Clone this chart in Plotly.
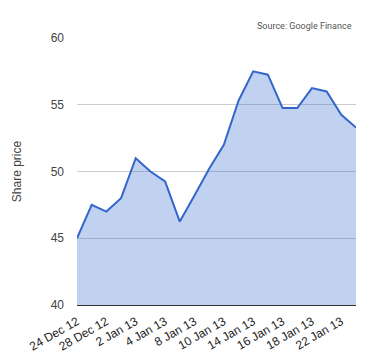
import plotly.graph_objects as go

dates = ["24 Dec 12", "27 Dec 12", "28 Dec 12", "31 Dec 12", "2 Jan 13", "3 Jan 13",
         "4 Jan 13", "7 Jan 13", "8 Jan 13", "9 Jan 13", "10 Jan 13", "11 Jan 13",
         "14 Jan 13", "15 Jan 13", "16 Jan 13", "17 Jan 13", "18 Jan 13", "21 Jan 13",
         "22 Jan 13", "23 Jan 13"]
prices = [45.0, 47.5, 47.0, 48.0, 51.0, 50.0, 49.25, 46.25, 48.2, 50.2, 52.0, 55.3,
          57.5, 57.25, 54.75, 54.75, 56.25, 56.0, 54.25, 53.3]
tick_labels = dates[::2]
y_ticks = [40, 45, 50, 55, 60]

fig = go.Figure()
fig.add_trace(go.Scatter(
    x=dates, y=prices, mode="lines",
    line=dict(color="#3366cc", width=2),
    fill="tozeroy", fillcolor="rgba(51,102,204,0.3)",
    hoverinfo="x+y",
))

fig.update_layout(
    width=372, height=352,
    margin=dict(l=69, r=24, t=30, b=55),
    paper_bgcolor="white", plot_bgcolor="white",
    font=dict(family="Liberation Sans, Arial, sans-serif", color="#444", size=12),
    showlegend=False,
    xaxis=dict(
        type="category", range=[0, len(dates) - 1], automargin=False,
        tickmode="array", tickvals=tick_labels, ticktext=tick_labels,
        tickangle=-30, tickfont=dict(size=12, color="#222"),
        showgrid=False, zeroline=False, showline=True, linecolor="#333", linewidth=1,
        ticks="", ticklabelstandoff=4,
    ),
    yaxis=dict(
        range=[40, 60], tickvals=y_ticks, showgrid=True, gridcolor="#ccc",
        zeroline=False, tickfont=dict(size=12, color="#444"), automargin=False,
        title=dict(text="Share price", font=dict(size=12, color="#444"), standoff=26),
        ticks="", ticklabelstandoff=12,
    ),
    annotations=[dict(
        text="Source: Google Finance", xref="paper", yref="paper",
        x=1, y=1, xanchor="right", yanchor="bottom", yshift=5, xshift=-2,
        showarrow=False, font=dict(family="Roboto, sans-serif", size=9, color="#555"),
    )],
)

fig.write_html("out.html")
